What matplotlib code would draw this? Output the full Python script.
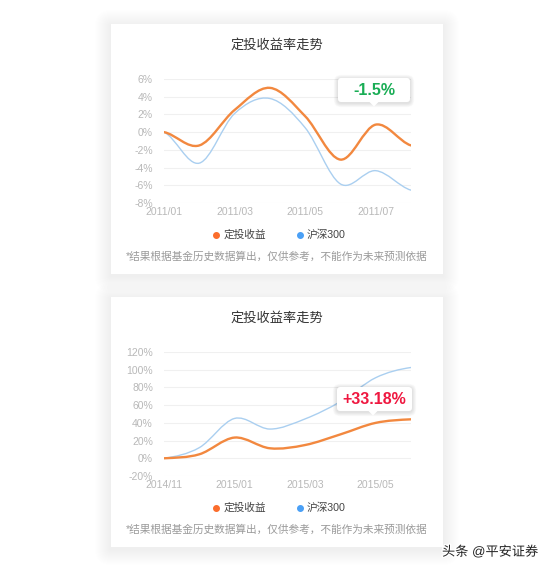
import numpy as np
import matplotlib.pyplot as plt
from matplotlib.path import Path
from matplotlib.patches import PathPatch, Rectangle, FancyBboxPatch, Polygon
from matplotlib.lines import Line2D
import matplotlib.patheffects as pe

plt.rcParams['font.family'] = ['Liberation Sans', 'Noto Sans CJK SC']

# 数据（按月，单位 %）
months_1 = ['2011/01', '2011/02', '2011/03', '2011/04', '2011/05', '2011/06', '2011/07', '2011/08']
dingtou_1 = [0, -1.5, 2.5, 5.0, 1.8, -3.1, 0.85, -1.5]
hs300_1 = [0, -3.5, 2.1, 3.8, 0.5, -5.85, -4.35, -6.55]
yticks_1 = [-8, -6, -4, -2, 0, 2, 4, 6]
tip_1 = '-1.5%'

months_2 = ['2014/11', '2014/12', '2015/01', '2015/02', '2015/03', '2015/04', '2015/05', '2015/06']
dingtou_2 = [0, 4.5, 23.4, 11.3, 15.0, 27.0, 40.0, 44.0]
hs300_2 = [0, 12.0, 45.0, 33.0, 44.5, 64.0, 91.0, 102.5]
yticks_2 = [-20, 0, 20, 40, 60, 80, 100, 120]
tip_2 = '+33.18%'

title = '定投收益率走势'
legend_names = ['定投收益', '沪深300']
note = '*结果根据基金历史数据算出，仅供参考，不能作为未来预测依据'
watermark = '头条 @平安证券'

ORANGE = '#f2883f'
BLUE = '#aacff0'
ORANGE_DOT = '#fb6d2c'
BLUE_DOT = '#4aa0f6'

W, H = 554, 570
fig = plt.figure(figsize=(W / 100, H / 100), dpi=100)
fig.patch.set_facecolor('white')

bg = fig.add_axes([0, 0, 1, 1], zorder=0)
bg.set_xlim(0, W)
bg.set_ylim(H, 0)
bg.axis('off')

fg = fig.add_axes([0, 0, 1, 1], zorder=5)
fg.set_xlim(0, W)
fg.set_ylim(H, 0)
fg.axis('off')
fg.patch.set_alpha(0)


def smooth_path(x, y):
    # 三次贝塞尔平滑曲线（类似 echarts smooth）
    x = np.asarray(x, float)
    y = np.asarray(y, float)
    n = len(x)
    m = np.zeros(n)
    m[1:-1] = (y[2:] - y[:-2]) / 2
    m[0] = (y[1] - y[0]) / 2
    m[-1] = (y[-1] - y[-2]) / 2
    verts = [(x[0], y[0])]
    codes = [Path.MOVETO]
    for i in range(n - 1):
        dx = x[i + 1] - x[i]
        verts += [(x[i] + dx / 3, y[i] + m[i] / 3),
                  (x[i + 1] - dx / 3, y[i + 1] - m[i + 1] / 3),
                  (x[i + 1], y[i + 1])]
        codes += [Path.CURVE4] * 3
    return Path(verts, codes)


def card(x0, y0, x1, y1):
    # 柔和阴影
    for k in range(16, 0, -1):
        bg.add_patch(FancyBboxPatch((x0 - k, y0 - k + 2), x1 - x0 + 2 * k, y1 - y0 + 2 * k,
                                    boxstyle=f'round,pad=0,rounding_size={k}',
                                    facecolor='black', edgecolor='none', alpha=0.0055))
    bg.add_patch(Rectangle((x0, y0), x1 - x0, y1 - y0, facecolor='white', edgecolor='none'))


def tooltip(x0, y0, x1, y1, px, text, color):
    for k in range(6, 0, -1):
        fg.add_patch(FancyBboxPatch((x0 - k * 0.7, y0 - k * 0.7 + 1), x1 - x0 + k * 1.4, y1 - y0 + k * 1.4,
                                    boxstyle=f'round,pad=0,rounding_size={3 + k * 0.7}',
                                    facecolor='black', edgecolor='none', alpha=0.02))
    fg.add_patch(FancyBboxPatch((x0, y0), x1 - x0, y1 - y0,
                                boxstyle='round,pad=0,rounding_size=3',
                                facecolor='white', edgecolor='none'))
    fg.add_patch(Polygon([(px - 5, y1 - 0.5), (px + 5, y1 - 0.5), (px, y1 + 4.5)],
                         closed=True, facecolor='white', edgecolor='none'))
    fg.text((x0 + x1) / 2, (y0 + y1) / 2 + 0.5, text, fontsize=11.5, fontweight='bold',
            color=color, ha='center', va='center')


def chart(off, labels, s1, s2, yticks, tip, tip_color, tip_box):
    card(111, 24 + off, 443, 274 + off)
    bg.text(277, 45 + off, title, fontsize=9.5, color='#333333', ha='center', va='center')

    ax = fig.add_axes([164 / W, 1 - (203 + off) / H, (411 - 164) / W, 124 / H], zorder=2)
    ax.patch.set_alpha(0)
    xs = np.arange(len(labels))
    ax.add_patch(PathPatch(smooth_path(xs, s2), fill=False, edgecolor=BLUE, lw=1.0,
                           capstyle='round', zorder=3))
    ax.add_patch(PathPatch(smooth_path(xs, s1), fill=False, edgecolor=ORANGE, lw=1.7,
                           capstyle='round', zorder=4))
    ax.set_xlim(xs[0], xs[-1])
    ax.set_ylim(yticks[0], yticks[-1])
    ax.set_yticks(yticks)
    ax.set_yticklabels([f'{v}%' for v in yticks])
    ax.set_xticks(xs[::2])
    ax.set_xticklabels(labels[::2])
    ax.tick_params(axis='both', length=0, labelsize=7.5, labelcolor='#b8b8b8')
    ax.tick_params(axis='y', pad=8)
    ax.tick_params(axis='x', pad=3)
    ax.grid(axis='y', color='#f0f0f0', lw=0.8)
    ax.set_axisbelow(True)
    for s in ax.spines.values():
        s.set_visible(False)

    handles = [Line2D([], [], marker='o', ls='', color=ORANGE_DOT, markersize=4),
               Line2D([], [], marker='o', ls='', color=BLUE_DOT, markersize=4)]
    leg = ax.legend(handles, legend_names, ncol=2, loc='center',
                    bbox_to_anchor=(278 / W, 1 - (235 + off) / H), bbox_transform=fig.transFigure,
                    frameon=False, fontsize=7.7, handletextpad=0.1, columnspacing=2.5,
                    handlelength=1.2)
    for t in leg.get_texts():
        t.set_color('#444444')

    bg.text(277, 257 + off, note, fontsize=7.7, color='#9a9a9a', ha='center', va='center')

    bx0, by0, bx1, by1, px = tip_box
    tooltip(bx0, by0 + off, bx1, by1 + off, px, tip, tip_color)


chart(0, months_1, dingtou_1, hs300_1, yticks_1, tip_1, '#19ad55', (338, 78, 410, 102, 374))
chart(273, months_2, dingtou_2, hs300_2, yticks_2, tip_2, '#ef1840', (337, 114, 412, 138, 373))

fg.text(442, 552, watermark, fontsize=9.5, color='#222222', ha='left', va='center',
        path_effects=[pe.withStroke(linewidth=2, foreground='white')])

fig.savefig('out.png', dpi=100)
